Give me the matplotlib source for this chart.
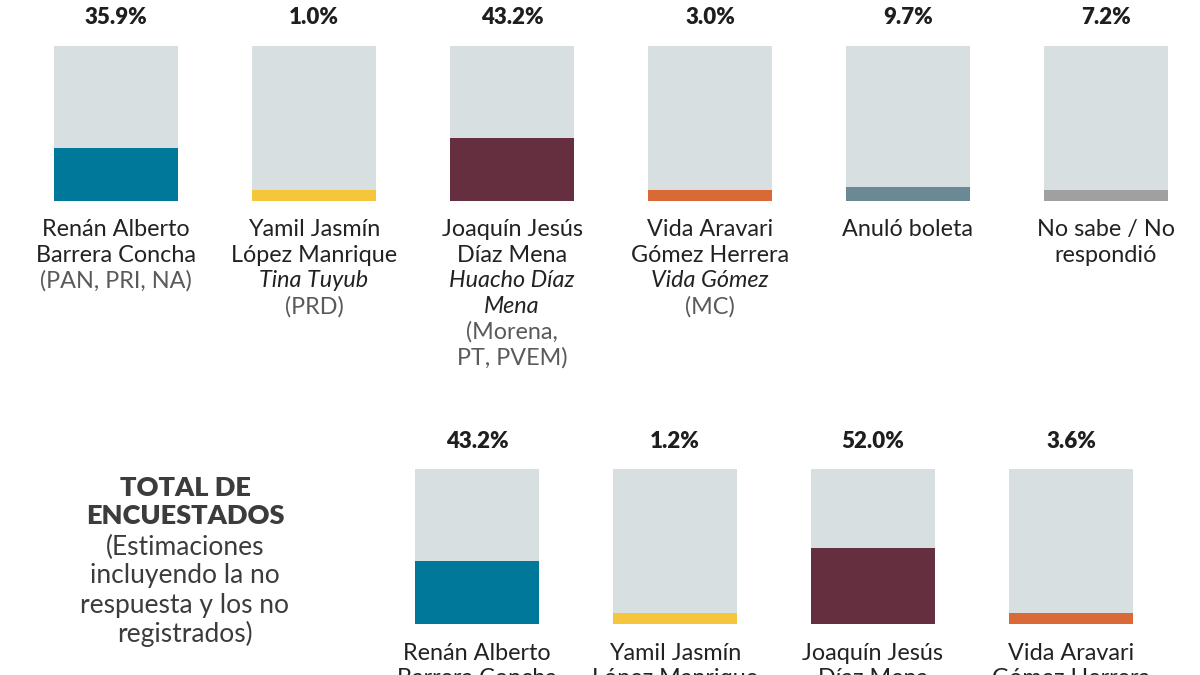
import matplotlib
matplotlib.use("Agg")
import matplotlib.pyplot as plt

# ---------------- data ----------------
top_values = [35.9, 1.0, 43.2, 3.0, 9.7, 7.2]
top_colors = ["#00789a", "#f5c63c", "#662f3f", "#d96a35", "#6a8995", "#a0a0a0"]
top_labels = [
    [("Renán Alberto", "n"), ("Barrera Concha", "n"), ("(PAN, PRI, NA)", "p")],
    [("Yamil Jasmín", "n"), ("López Manrique", "n"), ("Tina Tuyub", "i"), ("(PRD)", "p")],
    [("Joaquín Jesús", "n"), ("Díaz Mena", "n"), ("Huacho Díaz", "i"), ("Mena", "i"),
     ("(Morena,", "p"), ("PT, PVEM)", "p")],
    [("Vida Aravari", "n"), ("Gómez Herrera", "n"), ("Vida Gómez", "i"), ("(MC)", "p")],
    [("Anuló boleta", "n")],
    [("No sabe / No", "n"), ("respondió", "n")],
]

bottom_values = [43.2, 1.2, 52.0, 3.6]
bottom_colors = ["#00789a", "#f5c63c", "#662f3f", "#d96a35"]
# only the lines visible in the reference (the rest falls below the picture)
bottom_labels = [
    [("Renán Alberto", "n"), ("Barrera Concha", "n")],
    [("Yamil Jasmín", "n"), ("López Manrique", "n")],
    [("Joaquín Jesús", "n"), ("Díaz Mena", "n")],
    [("Vida Aravari", "n"), ("Gómez Herrera", "n")],
]

side_title = ["TOTAL DE", "ENCUESTADOS"]
side_note = ["(Estimaciones", "incluyendo la no", "respuesta y los no", "registrados)"]

# ---------------- style ----------------
W, H = 1200, 675
FONT = "Lato"
BG_BAR = "#d8dfe1"
BAR_FULL = 105.5      # value represented by the full grey bar
MIN_VISIBLE = 7.3     # minimum visible fill
PX = 0.72             # points per pixel at dpi 100
plt.rcParams["font.family"] = [FONT, "DejaVu Sans"]

fig = plt.figure(figsize=(W / 100, H / 100), dpi=100)
fig.patch.set_facecolor("white")


def fy(y):
    return 1 - y / H


def draw_row(values, colors, labels, first_center, bar_bottom_px):
    spacing = 198
    ax = fig.add_axes([0, fy(bar_bottom_px), 1, 155 / H])
    ax.set_xlim(-first_center / spacing, (W - first_center) / spacing)
    ax.set_ylim(0, BAR_FULL)
    ax.axis("off")
    xs = list(range(len(values)))
    width = 124 / spacing
    ax.bar(xs, [BAR_FULL] * len(values), width=width, color=BG_BAR, linewidth=0)
    ax.bar(xs, [max(v, MIN_VISIBLE) for v in values], width=width, color=colors, linewidth=0)
    for x, v, lab in zip(xs, values, labels):
        ax.annotate(f"{v:.1f}%", (x, BAR_FULL), xytext=(0, 28 * PX), textcoords="offset points",
                    ha="center", va="center", fontsize=16, fontweight="heavy", color="#1e1e1e",
                    annotation_clip=False)
        for k, (txt, st) in enumerate(lab):
            style = "italic" if st == "i" else "normal"
            col = "#5a5a5a" if st == "p" else "#222222"
            ax.annotate(txt, (x, 0), xytext=(0, -(29 + 25.5 * k) * PX), textcoords="offset points",
                        ha="center", va="center", fontsize=16.8, fontstyle=style, color=col,
                        annotation_clip=False)
    return ax


draw_row(top_values, top_colors, top_labels, 116, 201)
draw_row(bottom_values, bottom_colors, bottom_labels, 477, 624)

for k, t in enumerate(side_title):
    fig.text(185 / W, fy(488 + 28.5 * k), t, ha="center", va="center", fontsize=19.5,
             fontweight="heavy", color="#3c3c3c")
for k, t in enumerate(side_note):
    fig.text(185 / W, fy(547 + 29 * k), t, ha="center", va="center", fontsize=19,
             color="#3c3c3c")

fig.savefig("out.png", dpi=100, facecolor="white")
